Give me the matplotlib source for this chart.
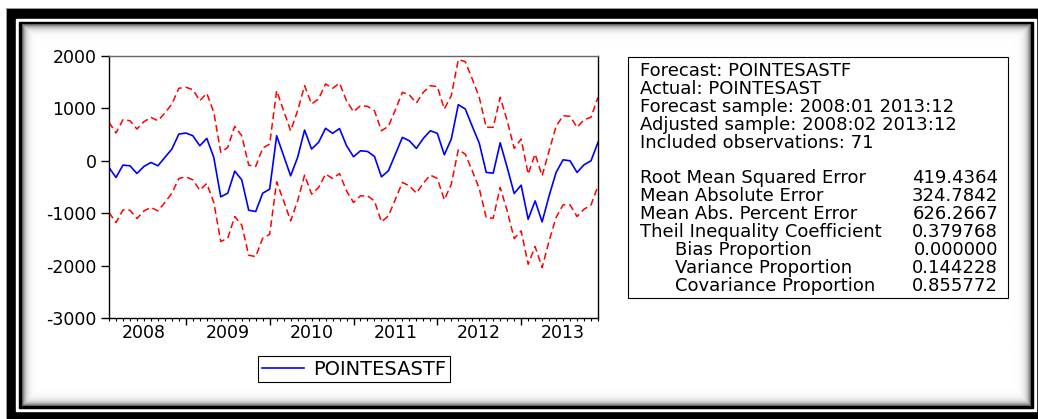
import numpy as np
import pandas as pd
import matplotlib
matplotlib.use('Agg')
import matplotlib.pyplot as plt
from matplotlib.patches import Rectangle
from matplotlib.lines import Line2D

plt.rcParams['font.family'] = ['DejaVu Sans']
plt.rcParams['axes.unicode_minus'] = False

# monthly static forecast of POINTESAST, 2008:02 - 2013:12
months = pd.period_range('2008-02', '2013-12', freq='M')

forecast = [-127, -318, -82, -95, -242, -108, -32, -95, 65, 224,
            510, 530, 478, 287, 428, 65, -688, -618, -197, -363,
            -943, -968, -618, -541, 478, 96, -287, 65, 587, 224,
            352, 620, 524, 615, 290, 77, 191, 179, 84, -306,
            -191, 128, 447, 382, 237, 428, 574, 524, 115, 415,
            1071, 989, 658, 338, -222, -235, 344, -127, -624, -465,
            -1115, -765, -1166, -669, -222, 19, 0, -222, -76, 0,
            352]
upper = [734, 530, 784, 765, 606, 746, 830, 765, 912, 1084,
         1384, 1403, 1358, 1147, 1289, 925, 161, 256, 658, 478,
         -82, -108, 243, 319, 1339, 956, 574, 956, 1434, 1084,
         1180, 1467, 1384, 1480, 1145, 937, 1052, 1040, 956, 574,
         658, 975, 1308, 1256, 1103, 1308, 1434, 1415, 989, 1243,
         1931, 1893, 1562, 1212, 639, 639, 1212, 765, 237, 415,
         -254, 128, -287, 191, 658, 860, 849, 639, 784, 830,
         1212]
lower = [-987, -1178, -937, -943, -1101, -956, -891, -956, -796, -618,
         -337, -306, -363, -560, -432, -796, -1541, -1478, -1063, -1224,
         -1803, -1828, -1478, -1402, -402, -765, -1147, -765, -273, -637,
         -509, -254, -337, -245, -574, -796, -669, -669, -765, -1166,
         -1052, -732, -413, -478, -618, -426, -273, -337, -746, -446,
         210, 128, -191, -528, -1083, -1096, -509, -956, -1484, -1338,
         -1975, -1637, -2038, -1530, -1083, -841, -841, -1063, -924, -841,
         -478]

y_ticks = [-3000, -2000, -1000, 0, 1000, 2000]

header_lines = ['Forecast: POINTESASTF',
                'Actual: POINTESAST',
                'Forecast sample: 2008:01 2013:12',
                'Adjusted sample: 2008:02 2013:12',
                'Included observations: 71']
stat_names = ['Root Mean Squared Error',
              'Mean Absolute Error',
              'Mean Abs. Percent Error',
              'Theil Inequality Coefficient',
              'Bias Proportion',
              'Variance Proportion',
              'Covariance Proportion']
stat_values = ['419.4364', '324.7842', '626.2667', '0.379768',
               '0.000000', '0.144228', '0.855772']
stat_indent = [False, False, False, False, True, True, True]

W, H = 1038, 419
fig = plt.figure(figsize=(W / 100, H / 100), dpi=100)


def px_box(x0, y0, x1, y1):
    return [x0 / W, 1 - y1 / H, (x1 - x0) / W, (y1 - y0) / H]


# background: double black frame with a soft inner shadow
bg = fig.add_axes([0, 0, 1, 1])
bg.add_patch(Rectangle((6, 8), W, H, facecolor='black', edgecolor='#999999', lw=0.7, zorder=0.5))
bg.add_patch(Rectangle((16, 19), 1036 - 16, 411 - 19, color='white', zorder=0.6))
bg.add_patch(Rectangle((19, 22), 1033 - 19, 408 - 22, color='black', zorder=0.7))
gx0, gy0, gx1, gy1 = 22, 25, 1031, 406
X, Y = np.meshgrid(np.arange(gx0, gx1) + 0.5, np.arange(gy0, gy1) + 0.5)
d = np.minimum.reduce([X - gx0, gx1 - X, Y - gy0, gy1 - Y])
shade = 1 - 0.72 * np.exp(-d / 3.2)
bg.imshow(shade, cmap='gray', vmin=0, vmax=1, extent=(gx0, gx1, gy1, gy0),
          interpolation='bilinear', aspect='auto', zorder=1)
bg.set_xlim(0, W)
bg.set_ylim(H, 0)
bg.axis('off')

# main chart
x = np.arange(len(months))
ax = fig.add_axes(px_box(109, 56, 598, 318))
ax.plot(x, upper, color='red', ls=(0, (4.5, 2.5)), lw=1.1)
ax.plot(x, lower, color='red', ls=(0, (4.5, 2.5)), lw=1.1)
ax.plot(x, forecast, color='blue', lw=1.2)
ax.set_xlim(0, len(months) - 1)
ax.set_ylim(-3000, 2000)
ax.set_yticks(y_ticks)
ax.tick_params(axis='y', direction='out', length=6, width=1, pad=3, labelsize=12.5)

jan = [i for i, m in enumerate(months) if m.month == 1]
ax.set_xticks(jan)
ax.set_xticklabels([])
ax.set_xticks(x, minor=True)
ax.tick_params(axis='x', which='major', direction='out', length=5, width=1)
ax.tick_params(axis='x', which='minor', direction='out', length=2.5, width=0.8)
for i, m in enumerate(months):
    if m.month == 7:
        ax.text(i, -0.058, str(m.year), transform=ax.get_xaxis_transform(),
                ha='center', va='center', fontsize=12.5)
for s in ax.spines.values():
    s.set_linewidth(1.0)
ax.spines['top'].set_color('#666666')

leg = fig.legend(handles=[Line2D([], [], color='blue', lw=1.2)], labels=['POINTESASTF'],
                 loc='center', bbox_to_anchor=(354 / W, 1 - 369 / H), fancybox=False,
                 edgecolor='black', framealpha=1, fontsize=14, borderpad=0.2,
                 handlelength=2.2, handletextpad=0.45)
leg.get_frame().set_linewidth(0.8)

# forecast evaluation table
bg.add_patch(Rectangle((628, 57), 380, 241, fill=False, ec='black', lw=0.8, zorder=2))
row_h = 17.9
for k, line in enumerate(header_lines):
    bg.text(640, 71 + row_h * k, line, ha='left', va='center', fontsize=13)
for k, (name, val, ind) in enumerate(zip(stat_names, stat_values, stat_indent)):
    yy = 71 + row_h * (k + 6)
    bg.text(675 if ind else 640, yy, name, ha='left', va='center', fontsize=13)
    bg.text(998, yy, val, ha='right', va='center', fontsize=13)

fig.savefig('out.png', dpi=100)
